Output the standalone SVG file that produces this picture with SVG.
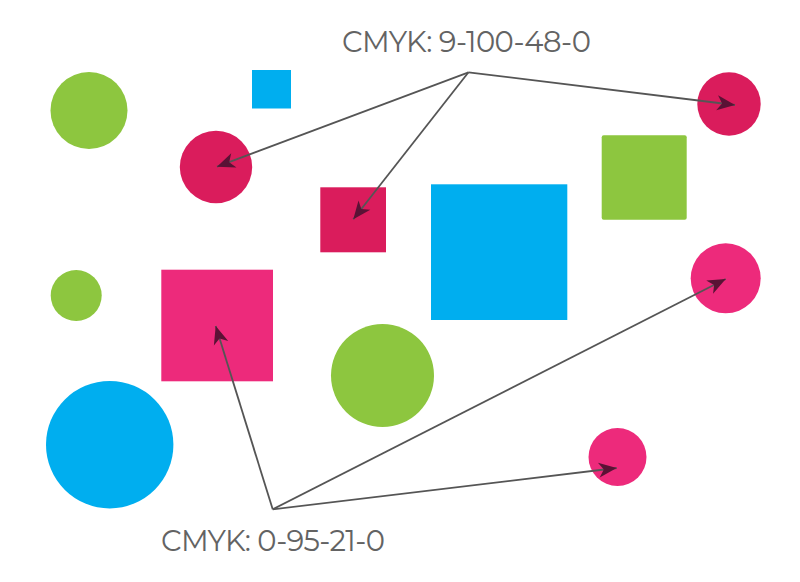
<svg xmlns="http://www.w3.org/2000/svg" width="800" height="582" viewBox="0 0 800 582">
<defs>
<style>
.g{fill:#8dc63f}.b{fill:#00aeef}.c{fill:#da1c5c}.p{fill:#ed2a7b}
.ln{fill:none;stroke:#555;stroke-width:1.8;marker-end:url(#ah)}
.lbl{font-family:"Montserrat","Open Sans","Liberation Sans",sans-serif;font-size:29px;fill:#636363}
</style>
<marker id="ah" markerUnits="userSpaceOnUse" viewBox="-19 -8 20 16" markerWidth="20" markerHeight="16" refX="0" refY="0" orient="auto">
<path d="M0,0 L-18,-7.5 L-13,0 L-18,7.5 Z" fill="#5a1235"/>
</marker>
</defs>
<rect width="800" height="582" fill="#fff"/>
<g id="green-circle-1"><circle class="g" cx="89" cy="110.5" r="38.5"/></g>
<g id="blue-square-small"><rect class="b" x="252" y="70" width="39" height="38.5"/></g>
<g id="crimson-circle-1"><circle class="c" cx="216" cy="167" r="36.2"/></g>
<g id="crimson-square"><rect class="c" x="320.3" y="187.3" width="65.7" height="65"/></g>
<g id="blue-square-big"><rect class="b" x="431" y="184.3" width="136.3" height="135.7"/></g>
<g id="green-square"><rect class="g" x="601.7" y="135.3" width="85" height="84.4" rx="2"/></g>
<g id="crimson-circle-2"><circle class="c" cx="729" cy="104" r="31.7"/></g>
<g id="pink-circle-1"><circle class="p" cx="725.7" cy="278.3" r="35"/></g>
<g id="green-circle-2"><circle class="g" cx="76.2" cy="295.5" r="25.5"/></g>
<g id="pink-square"><rect class="p" x="161.3" y="269.7" width="111.7" height="111.6"/></g>
<g id="green-circle-3"><circle class="g" cx="382.5" cy="375.5" r="51.5"/></g>
<g id="blue-circle"><circle class="b" cx="109.7" cy="444.7" r="63.7"/></g>
<g id="pink-circle-2"><circle class="p" cx="617.5" cy="457" r="29"/></g>
<g id="connectors">
<line class="ln" x1="468.5" y1="72.3" x2="217" y2="166.7"/>
<line class="ln" x1="468.5" y1="72.3" x2="353.3" y2="219.3"/>
<line class="ln" x1="468.5" y1="72.3" x2="735" y2="105"/>
<line class="ln" x1="272.7" y1="509.3" x2="215.7" y2="326"/>
<line class="ln" x1="272.7" y1="509.3" x2="725.7" y2="279"/>
<line class="ln" x1="272.7" y1="509.3" x2="616.7" y2="468"/>
</g>
<g id="label-top"><text class="lbl" x="342" y="52.3" textLength="249" lengthAdjust="spacing">CMYK: 9-100-48-0</text></g>
<g id="label-bottom"><text class="lbl" x="161" y="550.7" textLength="224" lengthAdjust="spacing">CMYK: 0-95-21-0</text></g>
</svg>
